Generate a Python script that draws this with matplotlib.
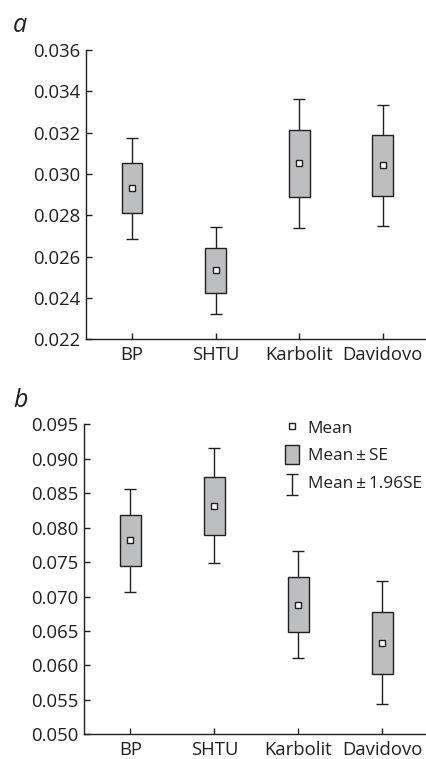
import matplotlib
matplotlib.use("Agg")
import matplotlib.pyplot as plt
from matplotlib.patches import Patch
from matplotlib.legend_handler import HandlerErrorbar
from matplotlib.transforms import Affine2D
import numpy as np

plt.rcParams['font.family'] = ['Open Sans', 'DejaVu Sans']

categories = ["BP", "SHTU", "Karbolit", "Davidovo"]

# panel a
a_mean = [0.02931, 0.02534, 0.03052, 0.03042]
a_se_lo = [0.02810, 0.02424, 0.02890, 0.02895]
a_se_hi = [0.03052, 0.02642, 0.03211, 0.03189]
a_ci_lo = [0.02687, 0.02321, 0.02739, 0.02750]
a_ci_hi = [0.03173, 0.02745, 0.03365, 0.03332]
a_yticks = [0.022, 0.024, 0.026, 0.028, 0.030, 0.032, 0.034, 0.036]

# panel b
b_mean = [0.07816, 0.08320, 0.06883, 0.06326]
b_se_lo = [0.07444, 0.07894, 0.06486, 0.05876]
b_se_hi = [0.08184, 0.08740, 0.07279, 0.06781]
b_ci_lo = [0.07071, 0.07487, 0.06104, 0.05441]
b_ci_hi = [0.08561, 0.09157, 0.07666, 0.07221]
b_yticks = [0.050, 0.055, 0.060, 0.065, 0.070, 0.075, 0.080, 0.085, 0.090, 0.095]

legend_labels = ["Mean", "Mean\u2009\u00b1\u2009SE", "Mean\u2009\u00b1\u20091.96SE"]

DARK = "#231f20"
GRAY = "#bcbec0"
FS = 13.3
LEG_FS = 12.4

fig = plt.figure(figsize=(4.27, 7.59), dpi=100)
ax_a = fig.add_axes([0.2014, 0.5530, 0.7986, 0.3811])
ax_b = fig.add_axes([0.1974, 0.03254, 0.8026, 0.4085])


class ShiftedErrorbarHandler(HandlerErrorbar):
    def create_artists(self, legend, orig_handle, xdescent, ydescent,
                       width, height, fontsize, trans):
        t = Affine2D().translate(0, -3.5) + trans
        return super().create_artists(legend, orig_handle, xdescent, ydescent,
                                      width, height, fontsize, t)


def draw(ax, mean, se_lo, se_hi, ci_lo, ci_hi, yticks):
    x = np.arange(1, len(categories) + 1)
    mean = np.array(mean); se_lo = np.array(se_lo); se_hi = np.array(se_hi)
    ci_lo = np.array(ci_lo); ci_hi = np.array(ci_hi)
    eb = ax.errorbar(x, mean, yerr=[mean - ci_lo, ci_hi - mean], fmt='none',
                     ecolor=DARK, elinewidth=1.0, capsize=4.2, capthick=1.0, zorder=2)
    ax.bar(x, se_hi - se_lo, bottom=se_lo, width=0.25, color=GRAY,
           edgecolor=DARK, linewidth=1.0, zorder=3)
    mk, = ax.plot(x, mean, ls='none', marker='s', ms=4.2, mfc='white',
                  mec=DARK, mew=1.0, zorder=4)
    ax.set_xlim(0.45, 4.53)
    ax.set_ylim(yticks[0], yticks[-1])
    ax.set_yticks(yticks)
    ax.set_yticklabels([f"{v:.3f}" for v in yticks])
    ax.set_xticks(x)
    ax.set_xticklabels(categories)
    for s in ['top', 'right']:
        ax.spines[s].set_visible(False)
    for s in ['left', 'bottom']:
        ax.spines[s].set_color(DARK)
        ax.spines[s].set_linewidth(1.0)
    ax.tick_params(direction='in', length=4, width=1.0, color=DARK,
                   labelsize=FS, labelcolor=DARK)
    ax.tick_params(axis='y', pad=4)
    ax.tick_params(axis='x', pad=5)
    return mk, eb


draw(ax_a, a_mean, a_se_lo, a_se_hi, a_ci_lo, a_ci_hi, a_yticks)
mk, eb = draw(ax_b, b_mean, b_se_lo, b_se_hi, b_ci_lo, b_ci_hi, b_yticks)

h_box = Patch(facecolor=GRAY, edgecolor=DARK, linewidth=1.0)
leg = ax_b.legend([mk, h_box, eb], legend_labels, loc='upper left',
                  bbox_to_anchor=(0.566, 1.043), frameon=False, fontsize=LEG_FS,
                  handlelength=0.8, handleheight=1.35, handletextpad=0.5,
                  labelspacing=0.45, borderaxespad=0, labelcolor=DARK,
                  handler_map={type(eb): ShiftedErrorbarHandler(xerr_size=0.5, yerr_size=0.6)})

fig.text(0.03, 0.958, "a", fontsize=18, style='italic', color=DARK, va='baseline')
fig.text(0.03, 0.464, "b", fontsize=18, style='italic', color=DARK, va='baseline')

fig.savefig("out.png", dpi=100)
